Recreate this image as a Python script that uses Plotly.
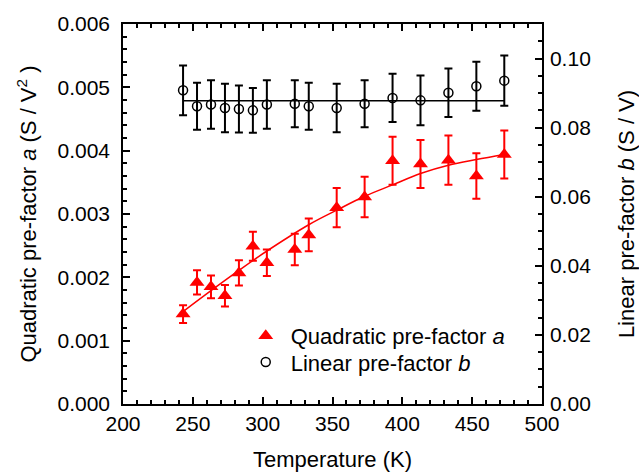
import plotly.graph_objects as go

# Temperatures (K)
temperature = [243, 253, 263, 273, 283, 293, 303, 323, 333, 353, 373, 393, 413, 433, 453, 473]

# Quadratic pre-factor a (S / V^2) and its error
quad_a = [0.00142, 0.00192, 0.00185, 0.00171, 0.00207, 0.00249, 0.00223, 0.00244, 0.00267,
          0.00310, 0.00327, 0.00384, 0.00379, 0.00385, 0.00360, 0.00394]
quad_a_err = [0.00014, 0.00019, 0.00018, 0.00017, 0.00020, 0.00023, 0.00021, 0.00025, 0.00026,
              0.00031, 0.00032, 0.00038, 0.00038, 0.00039, 0.00036, 0.00038]

# Linear pre-factor b (S / V) and its error
lin_b = [0.0908, 0.0862, 0.0867, 0.0857, 0.0854, 0.0850, 0.0867, 0.0869, 0.0862,
         0.0857, 0.0869, 0.0886, 0.0879, 0.0901, 0.0920, 0.0936]
lin_b_err = [0.0072, 0.0068, 0.0070, 0.0070, 0.0068, 0.0065, 0.0070, 0.0068, 0.0068,
             0.0070, 0.0068, 0.0070, 0.0072, 0.0070, 0.0071, 0.0073]

# Fit curve for a
fit_a_T = [243, 263, 283, 302, 333, 353, 373, 393, 413, 433, 453, 473]
fit_a = [0.00146, 0.00179, 0.00211, 0.00240, 0.00283, 0.00306, 0.00328, 0.00346,
         0.00364, 0.00377, 0.00386, 0.00394]

# Mean line for b
fit_b_T = [243, 473]
fit_b = [0.0878, 0.0878]

FONT = "Liberation Sans, Arial, sans-serif"

fig = go.Figure()

fig.add_trace(go.Scatter(
    x=fit_a_T, y=fit_a, mode="lines", line=dict(color="red", width=1.5, shape="spline"),
    showlegend=False, hoverinfo="skip"))

fig.add_trace(go.Scatter(
    x=temperature, y=quad_a, mode="markers",
    marker=dict(symbol="triangle-up", size=13, color="red"),
    error_y=dict(type="data", array=quad_a_err, color="red", thickness=2, width=4),
    name="Quadratic pre-factor <i>a</i>", legend="legend"))

fig.add_trace(go.Scatter(
    x=fit_b_T, y=fit_b, mode="lines", line=dict(color="black", width=1.5),
    yaxis="y2", showlegend=False, hoverinfo="skip"))

fig.add_trace(go.Scatter(
    x=temperature, y=lin_b, mode="markers", yaxis="y2",
    marker=dict(symbol="circle-open", size=9, color="black", line=dict(width=1.5, color="black")),
    error_y=dict(type="data", array=lin_b_err, color="black", thickness=2, width=4),
    name="Linear pre-factor <i>b</i>", legend="legend2"))

axis_common = dict(
    showgrid=False, zeroline=False, showline=True, linecolor="black", linewidth=1.5,
    ticks="inside", ticklen=7, tickwidth=1.5, tickcolor="black", automargin=False,
    tickfont=dict(family=FONT, size=21, color="black"),
)

legend_common = dict(
    xanchor="left", yanchor="middle", bgcolor="rgba(0,0,0,0)",
    font=dict(family=FONT, size=22, color="black"), itemwidth=40,
)

fig.update_layout(
    width=639, height=472,
    margin=dict(l=123, r=97, t=24, b=68, autoexpand=False),
    paper_bgcolor="white", plot_bgcolor="white",
    font=dict(family=FONT, size=22, color="black"),
    xaxis=dict(
        **axis_common, range=[200, 500], dtick=50, tick0=200, mirror="ticks",
        minor=dict(dtick=10, ticks="inside", ticklen=4, tickwidth=1.5, tickcolor="black"),
        title=dict(text="Temperature (K)", font=dict(family=FONT, size=22), standoff=19),
    ),
    yaxis=dict(
        **axis_common, range=[0, 0.006], dtick=0.001, tick0=0, tickformat=".3f", mirror=True,
        ticklabelstandoff=7,
        minor=dict(dtick=0.0002, ticks="inside", ticklen=4, tickwidth=1.5, tickcolor="black"),
        title=dict(text="Quadratic pre-factor <i>a</i> (S / V<sup>2</sup> )",
                   font=dict(family=FONT, size=22), standoff=15),
    ),
    yaxis2=dict(
        **axis_common, range=[0, 0.11], dtick=0.02, tick0=0, tickformat=".2f",
        overlaying="y", side="right", ticklabelstandoff=2,
        minor=dict(dtick=0.005, ticks="inside", ticklen=4, tickwidth=1.5, tickcolor="black"),
        title=dict(text="Linear pre-factor <i>b</i> (S / V)",
                   font=dict(family=FONT, size=22), standoff=28),
    ),
    legend=dict(**legend_common, x=0.281, y=0.179),
    legend2=dict(**legend_common, x=0.281, y=0.110),
)

fig.write_html("out.html", config={"displayModeBar": False},
               post_script="document.body.style.margin='0';")
